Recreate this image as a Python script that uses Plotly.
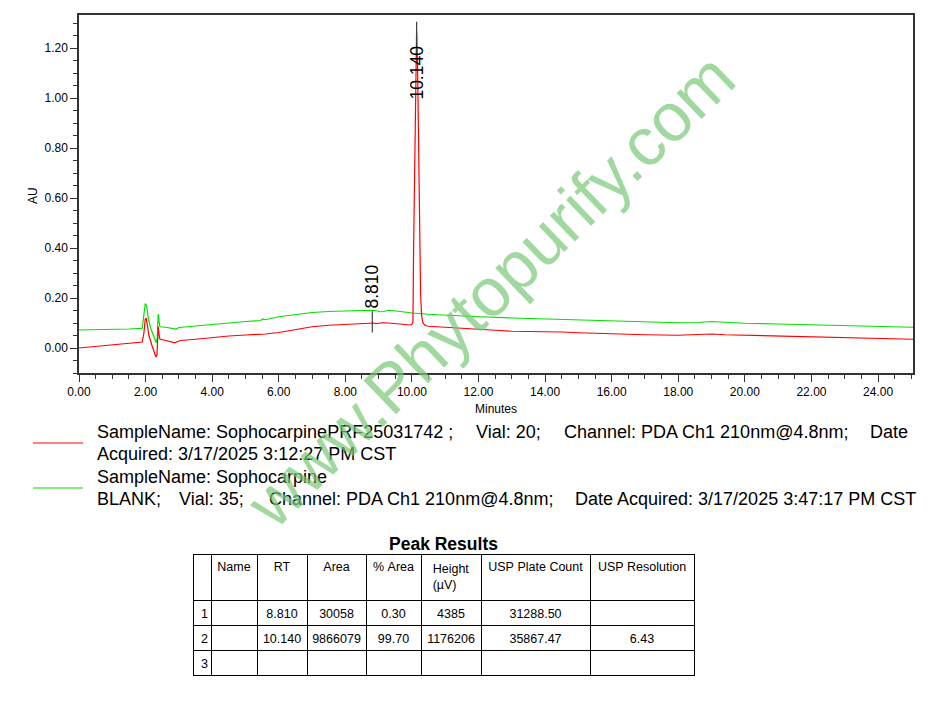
import numpy as np
import plotly.graph_objects as go

# ---------------- data ----------------
sample_t = [0.0, 0.5, 1.0, 1.5, 1.85, 1.9, 1.95, 1.99, 2.02, 2.06, 2.10, 2.18, 2.26, 2.31, 2.34,
            2.36, 2.38, 2.40, 2.43, 2.55, 2.7, 2.88, 2.95, 3.05, 3.5, 4.0, 4.5, 5.0, 5.45, 5.53,
            5.6, 6.0, 6.5, 7.0, 7.5, 8.0, 8.5, 8.75, 8.81, 8.86, 8.92, 9.1, 9.3, 9.6, 9.9, 9.95,
            10.0, 10.03, 10.05, 10.08, 10.11, 10.14, 10.17, 10.20, 10.23, 10.26, 10.29, 10.33,
            10.40, 10.5, 11.0, 11.5, 12.0, 12.5, 13.0, 13.5, 14.0, 14.5, 15.0, 16.0, 17.0, 18.0,
            18.6, 19.0, 19.4, 20.0, 21.0, 22.0, 23.0, 24.0, 25.05]
sample_au = [0.0, 0.006, 0.012, 0.018, 0.023, 0.024, 0.06, 0.115, 0.12, 0.09, 0.05, 0.015, -0.02,
             -0.036, -0.03, 0.04, 0.085, 0.06, 0.035, 0.032, 0.028, 0.021, 0.025, 0.03, 0.035,
             0.043, 0.048, 0.052, 0.055, 0.058, 0.056, 0.062, 0.075, 0.085, 0.091, 0.095, 0.098,
             0.1, 0.102, 0.1, 0.097, 0.101, 0.1, 0.095, 0.092, 0.092, 0.095, 0.105, 0.40, 0.74,
             1.10, 1.27, 1.12, 0.76, 0.42, 0.22, 0.13, 0.10, 0.09, 0.087, 0.083, 0.08, 0.076,
             0.071, 0.067, 0.066, 0.067, 0.064, 0.061, 0.056, 0.053, 0.051, 0.053, 0.056, 0.053,
             0.051, 0.047, 0.044, 0.041, 0.038, 0.035]

blank_t = [0.0, 0.5, 1.0, 1.5, 1.9, 1.95, 1.99, 2.03, 2.08, 2.15, 2.25, 2.32, 2.35, 2.38, 2.40,
           2.43, 2.6, 2.8, 2.92, 3.0, 3.5, 4.0, 4.5, 5.0, 5.45, 5.53, 5.6, 6.0, 6.5, 7.0, 7.5,
           8.0, 8.5, 8.9, 9.05, 9.15, 9.3, 9.6, 10.0, 10.5, 11.0, 12.0, 13.0, 14.0, 15.0, 16.0,
           17.0, 18.0, 18.6, 19.0, 19.4, 20.0, 21.0, 22.0, 23.0, 24.0, 25.05]
blank_au = [0.072, 0.073, 0.075, 0.076, 0.079, 0.13, 0.178, 0.17, 0.12, 0.08, 0.04, 0.021, 0.04,
            0.136, 0.11, 0.085, 0.083, 0.08, 0.076, 0.082, 0.087, 0.095, 0.1, 0.106, 0.11, 0.116,
            0.113, 0.125, 0.135, 0.142, 0.146, 0.149, 0.15, 0.15, 0.145, 0.146, 0.151, 0.147,
            0.14, 0.135, 0.131, 0.125, 0.12, 0.116, 0.111, 0.106, 0.103, 0.101, 0.102, 0.106,
            0.103, 0.099, 0.096, 0.093, 0.09, 0.087, 0.083]

peak_no = ["1", "2", "3"]
peak_name = ["", "", ""]
peak_rt = ["8.810", "10.140", ""]
peak_area = ["30058", "9866079", ""]
peak_pct = ["0.30", "99.70", ""]
peak_height = ["4385", "1176206", ""]
peak_plates = ["31288.50", "35867.47", ""]
peak_res = ["", "6.43", ""]
table_header = ["", "Name", "RT", "Area", "% Area", "Height<br>(µV)", "USP Plate Count", "USP Resolution"]

x_ticks = [0, 2, 4, 6, 8, 10, 12, 14, 16, 18, 20, 22, 24]
y_ticks = [0.0, 0.2, 0.4, 0.6, 0.8, 1.0, 1.2]

legend_lines = [
    [("SampleName: SophocarpinePRF25031742 ;", 95), ("Vial: 20;", 474),
     ("Channel: PDA Ch1 210nm@4.8nm;", 562), ("Date", 868)],
    [("Acquired: 3/17/2025 3:12:27 PM CST", 95)],
    [("SampleName: Sophocarpine", 95)],
    [("BLANK;", 95), ("Vial: 35;", 177), ("Channel: PDA Ch1 210nm@4.8nm;", 267),
     ("Date Acquired: 3/17/2025 3:47:17 PM CST", 573)],
]

# ---------------- figure ----------------
W, H = 940, 711
FONT = "Liberation Sans, Arial, sans-serif"
NBSP = "\u00a0"


def px(xp):
    return xp / W


def py(yp):
    return (H - yp) / H


fig = go.Figure()
fig.add_trace(go.Scatter(x=blank_t, y=blank_au, mode="lines",
                         line=dict(color="#00e000", width=1.2), hoverinfo="skip"))
fig.add_trace(go.Scatter(x=sample_t, y=sample_au, mode="lines",
                         line=dict(color="#ff0000", width=1.2), hoverinfo="skip"))

# peak markers and labels
for rt in peak_rt:
    if not rt:
        continue
    r = float(rt)
    base = float(np.interp(r, sample_t, sample_au))
    if base > 0.5:
        y0, y1 = base - 0.1, base + 0.035
        ylab = base - 0.17
    else:
        y0, y1 = base - 0.04, base + 0.045
        ylab = base + 0.145
    fig.add_trace(go.Scatter(x=[r, r], y=[y0, y1], mode="lines",
                             line=dict(color="#404040", width=1.2), hoverinfo="skip"))
    fig.add_annotation(x=r, y=ylab, xref="x", yref="y", text=rt, textangle=-90,
                       xanchor="center", yanchor="middle", showarrow=False,
                       font=dict(family=FONT, size=17.5, color="black"))

axis_common = dict(ticks="outside", ticklen=7, tickcolor="#333", showgrid=False,
                   zeroline=False, showline=True, linecolor="#333", linewidth=1.5,
                   mirror=True, automargin=False, tickfont=dict(size=12))
fig.update_layout(
    width=W, height=H, margin=dict(l=0, r=0, t=0, b=0, autoexpand=False),
    paper_bgcolor="white", plot_bgcolor="white", showlegend=False,
    font=dict(family=FONT, size=12, color="black"),
    xaxis=dict(domain=[px(79), px(913)], range=[0, 25.05], tickvals=x_ticks,
               ticktext=[f"{v:.2f}" for v in x_ticks],
               minor=dict(dtick=0.5, ticks="outside", ticklen=4, tickcolor="#333"),
               **axis_common),
    yaxis=dict(domain=[py(373), py(15)], range=[-0.1, 1.332], tickvals=y_ticks,
               ticktext=[f"{v:.2f}" for v in y_ticks],
               minor=dict(tick0=0, dtick=0.05, ticks="outside", ticklen=4, tickcolor="#333"),
               **axis_common),
)

# axis titles
fig.add_annotation(x=px(496), y=py(409), xref="paper", yref="paper", text="Minutes",
                   xanchor="center", yanchor="middle", showarrow=False,
                   font=dict(family=FONT, size=12, color="black"))
fig.add_annotation(x=px(33), y=py(196), xref="paper", yref="paper", text="AU",
                   textangle=-90, xanchor="center", yanchor="middle", showarrow=False,
                   font=dict(family=FONT, size=12, color="black"))

# legend
fig.add_shape(type="line", xref="paper", yref="paper", x0=px(33), x1=px(83),
              y0=py(443), y1=py(443), line=dict(color="#ff0000", width=1.2))
fig.add_shape(type="line", xref="paper", yref="paper", x0=px(33), x1=px(83),
              y0=py(488), y1=py(488), line=dict(color="#00e000", width=1.2))
line_y = [432, 454, 477, 499]
for segs, ly in zip(legend_lines, line_y):
    for txt, lx in segs:
        fig.add_annotation(x=px(lx), y=py(ly), xref="paper", yref="paper", text=txt,
                           xanchor="left", yanchor="middle", showarrow=False,
                           font=dict(family=FONT, size=18, color="black"))

# table
fig.add_annotation(x=px(443), y=py(544), xref="paper", yref="paper", text="<b>Peak Results</b>",
                   xanchor="center", yanchor="middle", showarrow=False,
                   font=dict(family=FONT, size=17.5, color="black"))
fig.add_trace(go.Table(
    domain=dict(x=[px(193), px(694)], y=[0, py(554)]),
    columnwidth=[18, 46, 50, 59, 55, 60, 109, 104],
    header=dict(values=[h.replace(" ", NBSP) for h in table_header], height=43,
                fill_color="white", line=dict(color="black", width=1),
                align=["left"] + ["center"] * 7,
                font=dict(family=FONT, size=12.5, color="black")),
    cells=dict(values=[peak_no, peak_name, peak_rt, peak_area, peak_pct, peak_height,
                       peak_plates, peak_res],
               height=25, fill_color="white", line=dict(color="black", width=1),
               align=["left"] + ["center"] * 7,
               font=dict(family=FONT, size=12.5, color="black")),
))

# watermark
fig.add_annotation(x=px(490), y=py(290), xref="paper", yref="paper",
                   text="www.Phytopurify.com", textangle=-44, xanchor="center",
                   yanchor="middle", showarrow=False,
                   font=dict(family=FONT, size=68, color="rgba(120,200,120,0.7)"))

fig.write_html("out.html", config={"displayModeBar": False},
               post_script="document.body.style.margin='0';document.body.style.overflow='hidden';")
